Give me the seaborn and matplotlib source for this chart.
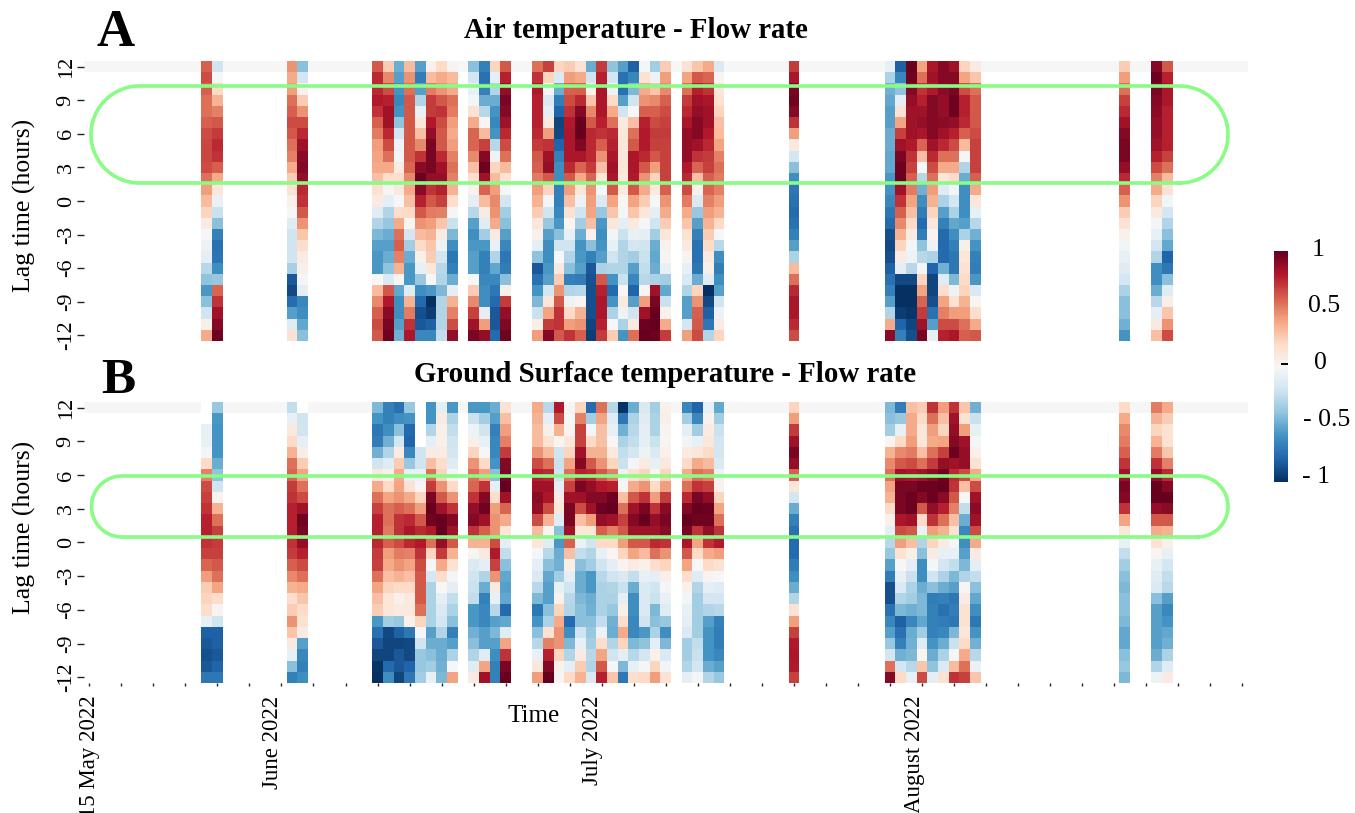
# -*- coding: utf-8 -*-
import pandas as pd
import numpy as np
import seaborn as sns
import matplotlib
matplotlib.use("Agg")
import matplotlib.pyplot as plt
from matplotlib.lines import Line2D
from matplotlib.transforms import IdentityTransform

#--- lag rows, top to bottom ---
lags = [12, 11, 10, 9, 8, 7, 6, 5, 4, 3, 2, 1, 0, -1, -2, -3, -4, -5, -6, -7, -8, -9, -10, -11, -12]
n_days = 109
lag_labels = ["12", "9", "6", "3", "0", "-3", "-6", "-9", "-12"]
month_labels = ["15 May 2022", "June 2022", "July 2022", "August 2022"]
nan = np.nan

#--- Air temperature - Flow rate, one list per day ---
a11 = [.6,.65,.6,.55,.55,.6,.65,.67,.67,.65,.55,.42,.32,.22,.08,-.01,-.05,-.1,-.28,-.4,-.58,-.42,-.2,.06,.38]
a12 = [-.2,0,.2,.35,.5,.62,.7,.75,.72,.6,.38,.12,-.07,-.22,-.42,-.68,-.75,-.73,-.62,-.38,.58,.72,.85,.92,.98]
a19 = [.45,.38,.42,.55,.6,.65,.62,.55,.5,.38,.25,.15,.05,-.01,-.12,-.2,-.2,-.2,-.33,-.85,-.9,-.77,-.55,-.12,.15]
a20 = [-.42,-.18,.05,.25,.45,.65,.75,.85,.9,.92,.88,.75,.72,.62,.45,.28,.18,.08,.06,-.02,-.1,-.65,-.62,-.52,-.42]
a27 = [.62,.75,.75,.8,.72,.6,.52,.42,.4,.38,.3,.15,.08,-.12,-.3,-.45,-.55,-.58,-.58,0,.32,.48,.6,.65,.62]
a28 = [.25,.48,.65,.78,.85,.85,.75,.65,.55,.38,.18,.02,-.1,-.3,-.38,-.5,-.55,-.5,-.4,-.15,.62,.8,.9,.95,.98]
a29 = [-.5,-.55,-.6,-.65,-.6,-.4,-.18,-.06,-.03,.08,.18,.1,0,.18,.38,.55,.6,.5,.35,.02,-.52,-.62,-.62,-.55,-.48]
a30 = [.32,.45,.55,.62,.62,.62,.62,.62,.62,.58,.48,.38,.3,.2,.02,-.18,-.35,-.5,-.58,-.58,-.12,.35,.52,.72,.82]
a31 = [-.55,-.7,-.55,-.3,-.08,.12,.3,.48,.72,.9,.98,.9,.78,.62,.45,.32,.2,.06,-.08,-.38,-.62,-.78,-.88,-.85,-.65]
a32 = [.05,.32,.52,.7,.7,.8,.88,.95,.95,.95,.88,.72,.62,.52,.42,.35,.28,.25,.12,0,-.58,-1,-.95,-.82,-.65]
a33 = [.2,.38,.45,.62,.72,.65,.62,.62,.75,.85,.88,.78,.68,.5,.28,.08,-.05,-.18,-.28,-.3,-.45,-.3,-.3,-.3,-.25]
a34 = [.03,.32,.38,.55,.52,.42,.38,.42,.5,.55,.5,.35,.18,-.02,-.22,-.45,-.62,-.72,-.68,-.5,-.1,.35,.5,.65,.88]
a36 = [-.42,-.18,-.08,-.02,.15,.38,.58,.58,.48,.3,.18,.04,-.1,-.28,-.55,-.62,-.58,-.55,-.55,0,.25,.48,.68,.85,.95]
a37 = [-.68,-.75,-.68,-.5,-.28,.02,.32,.68,.92,.98,.85,.58,.32,.08,-.12,-.35,-.58,-.68,-.68,-.65,-.62,-.62,-.1,.42,.88]
a38 = [.22,-.1,-.3,-.5,-.6,-.65,-.6,-.28,-.05,.22,.32,.42,.48,.45,.38,.08,-.08,-.3,-.52,-.65,-.72,-.78,-.85,-.85,-.78]
a39 = [.62,.78,.88,.95,.92,.85,.75,.65,.55,.32,.15,0,-.18,-.35,-.42,-.55,-.65,-.72,-.7,-.42,.06,.7,.88,.93,.97]
a42 = [.55,.72,.8,.78,.78,.78,.75,.7,.62,.6,.52,.42,.35,.25,.12,.05,-.1,-.4,-.85,-.75,-.6,-.45,-.22,.06,.42]
a43 = [.68,.22,-.02,-.15,-.1,.1,.42,.72,.85,.88,.62,.22,-.02,-.2,-.38,-.55,-.62,-.62,-.58,-.55,-.18,.12,.4,.7,.92]
a44 = [.22,-.15,-.5,-.7,-.8,-.92,-.9,-.8,-.68,-.62,-.62,-.68,-.68,-.65,-.58,-.42,-.2,-.01,.1,.25,.45,.62,.72,.72,.62]
a45 = [.25,.42,.6,.65,.72,.8,.82,.82,.82,.75,.62,.42,.3,.15,.02,-.08,-.2,-.3,-.42,-.68,-.3,-.05,.2,.42,.72]
a46 = [.15,.38,.6,.75,.92,1,1,.93,.82,.58,.38,.12,-.06,-.2,-.35,-.5,-.6,-.58,-.55,-.7,-.28,.02,.35,.45,.6]
a47 = [-.5,-.2,.04,.28,.48,.62,.75,.75,.75,.7,.58,.45,.42,.4,.3,.05,-.42,-.68,-.85,-.87,-.88,-.88,-.88,-.92,-.95]
a48 = [.7,.78,.82,.82,.82,.78,.72,.6,.45,.3,.12,-.01,-.15,-.38,-.58,-.62,-.6,-.55,-.32,.62,.78,.82,.82,.78,.7]
a49 = [-.4,-.18,-.05,.2,.38,.55,.75,.78,.82,.85,.82,.62,.4,.28,.12,-.03,-.08,-.2,-.3,-.6,-.78,-.6,-.32,0,.25]
a50 = [-.55,-.75,-.75,-.55,-.2,.1,.12,.12,.12,.12,.1,.1,.02,-.02,-.1,-.22,-.3,-.3,-.3,-.22,.02,.1,-.05,-.32,-.6]
a51 = [-.82,-.65,-.45,-.2,0,.3,.55,.62,.82,.82,.8,.62,.4,.28,.1,-.08,-.18,-.35,-.55,-.65,-.8,-.55,-.2,.1,.55]
a52 = [-.02,.15,.38,.45,.6,.78,.8,.8,.75,.62,.45,.38,.25,.12,-.02,-.1,-.2,-.22,-.25,-.28,.02,.42,.85,.98,1]
a53 = [-.35,-.05,.28,.48,.6,.65,.7,.68,.62,.42,.22,.1,-.01,-.1,-.2,-.35,-.5,-.52,-.5,-.32,.85,.95,1,1,.98]
a54 = [.25,.42,.48,.6,.65,.68,.7,.68,.68,.68,.68,.6,.45,.38,.25,.12,.05,.02,-.08,-.35,-.52,-.22,.04,.38,.7]
a56 = [.15,.4,.55,.7,.75,.82,.88,.88,.88,.8,.75,.65,.52,.38,.28,.15,.1,.03,-.08,-.15,-.3,-.55,-.55,-.18,.42]
a57 = [.28,.62,.78,.85,.88,.92,.92,.85,.72,.58,.3,.05,-.15,-.38,-.55,-.68,-.75,-.75,-.72,-.5,.22,.45,.6,.62,.65]
a58 = [.38,.58,.72,.82,.85,.85,.8,.75,.7,.68,.6,.58,.5,.42,.35,.25,.2,.1,.06,-.12,-1,-.9,-.82,-.72,-.3]
a59 = [-.15,.02,.12,.15,.22,.3,.32,.4,.5,.55,.52,.5,.42,.35,.2,-.01,-.28,-.62,-.7,-.62,-.55,-.2,-.06,.08,.22]
a66 = [.7,.82,.95,.97,.92,.72,.42,.1,-.18,-.42,-.62,-.72,-.75,-.78,-.75,-.68,-.55,-.32,.32,.55,.75,.82,.82,.75,.65]
a75 = [-.08,-.32,-.48,-.52,-.55,-.55,-.5,-.5,-.52,-.52,-.58,-.6,-.65,-.72,-.78,-.88,-.9,-.88,-.82,-.75,-.68,-.55,-.3,.38,.9]
a76 = [-.82,-.65,-.4,-.1,.15,.4,.68,.85,.95,.98,.98,.85,.72,.6,.48,.35,.22,.08,-.1,-.9,-1,-1,-.95,-.8,-.68]
a77 = [.98,.97,.92,.88,.85,.85,.85,.8,.72,.68,.6,.52,.4,.3,.2,.08,-.03,-.05,-.28,-.9,-1,-1,-.97,-.92,-.88]
a78 = [.4,.55,.72,.78,.85,.88,.82,.58,.3,-.01,-.28,-.48,-.62,-.7,-.78,-.7,-.4,-.28,-.02,.22,.4,.58,.7,.85,.95]
a79 = [.82,.85,.8,.92,.92,.92,.92,.85,.75,.65,.55,.42,.35,.22,.12,.03,-.05,-.32,-.8,-.92,-.92,-.88,-.75,-.55,-.08]
a80 = [.92,.92,.9,.88,.88,.9,.85,.75,.55,.38,.12,-.12,-.32,-.55,-.68,-.78,-.78,-.78,-.48,-.12,.18,.4,.5,.65,.78]
a81 = [.85,.92,.95,.98,.98,.88,.78,.65,.55,.38,.2,-.03,-.18,-.32,-.52,-.62,-.68,-.72,-.72,-.45,-.05,.15,.42,.65,.82]
a82 = [.22,.4,.65,.78,.78,.75,.6,.32,-.02,-.3,-.5,-.62,-.62,-.62,-.55,-.32,.06,.12,.15,.2,.22,.35,.42,.55,.6]
a83 = [.08,.28,.55,.62,.62,.62,.65,.68,.68,.68,.6,.38,.12,-.08,-.28,-.48,-.6,-.68,-.7,-.58,-.15,.02,.18,.38,.62]
a97 = [.25,.42,.55,.68,.75,.85,.92,.95,.95,.88,.75,.6,.45,.25,.15,.05,-.03,-.08,-.12,-.18,-.32,-.42,-.42,-.48,-.6]
a100 = [.92,.98,.95,.92,.9,.88,.88,.85,.78,.65,.5,.38,.22,.1,-.02,-.08,-.18,-.3,-.62,-.62,-.5,-.28,-.1,.1,.3]
a101 = [.62,.78,.82,.82,.78,.78,.78,.78,.68,.55,.32,.15,-.03,-.18,-.3,-.42,-.52,-.8,-.72,-.42,-.12,.06,.28,.45,.65]

#--- Ground Surface temperature - Flow rate ---
b11 = [nan,nan,-.08,-.08,-.02,.2,.5,.65,.68,.72,.78,.78,.72,.68,.58,.42,.25,.22,.18,-.08,-.82,-.85,-.88,-.85,-.72]
b12 = [-.38,-.58,-.6,-.6,-.6,-.5,-.4,-.2,.03,.35,.55,.68,.7,.68,.62,.55,.4,.18,.02,-.2,-.82,-.82,-.85,-.8,-.72]
b19 = [-.25,-.08,.1,.2,.35,.55,.58,.7,.72,.78,.78,.78,.72,.7,.6,.48,.35,.18,.25,.45,.28,.1,-.08,-.42,-.68]
b20 = [nan,-.2,-.2,-.1,.07,.25,.4,.55,.65,.85,.97,.95,.88,.78,.65,.55,.38,.28,.2,.15,.08,-.55,-.65,-.68,-.62]
b27 = [-.45,-.6,-.72,-.7,-.48,-.2,.1,.38,.55,.68,.78,.78,.75,.7,.68,.55,.4,.3,.25,-.58,-.75,-.85,-.92,-.98,-1]
b28 = [-.68,-.68,-.62,-.48,-.3,-.12,.05,.2,.4,.55,.55,.52,.6,.42,.38,.3,.22,.12,.12,-.35,-.9,-.92,-.92,-.78,-.62]
b29 = [-.75,-.62,-.42,-.18,.08,.25,.38,.4,.45,.6,.72,.72,.65,.52,.45,.35,.2,.05,.1,-.38,-.82,-.92,-.85,-.85,-.92]
b30 = [-.38,-.6,-.78,-.8,-.65,-.38,-.08,.15,.38,.55,.75,.82,.75,.5,.4,.3,.2,.1,.1,.05,-.72,-.9,-.9,-.8,-.72]
b31 = [nan,nan,nan,nan,-.2,-.2,-.08,.02,.22,.42,.62,.75,.8,.72,.65,.62,.62,.62,.55,.22,-.02,-.2,-.38,-.38,-.35]
b32 = [-.6,-.6,-.3,-.1,.08,.3,.55,.7,.95,1,.97,.8,.55,.22,-.02,-.18,-.32,-.32,-.32,-.32,-.55,-.5,-.42,-.35,-.08]
b33 = [-.1,.08,.06,.05,.08,.18,.22,.45,.62,.85,1,1,.88,.7,.38,.18,0,-.1,-.15,-.18,-.3,-.5,-.5,-.48,-.45]
b34 = [-.58,-.32,-.25,-.2,-.18,-.12,-.02,.2,.45,.72,.92,.85,.62,.35,.15,-.02,-.1,-.25,-.32,-.42,-.68,-.55,-.32,0,.4]
b36 = [-.58,-.22,-.06,.06,.22,.45,.55,.58,.72,.88,.92,.72,.35,.02,-.15,-.2,-.22,-.25,-.58,-.58,-.48,-.42,-.3,-.12,.08]
b37 = [-.58,-.35,-.2,-.08,0,.2,.42,.72,.92,.97,.85,.6,.35,.1,-.1,-.3,-.5,-.68,-.65,-.65,-.55,-.55,-.12,.4,.85]
b38 = [-.5,-.55,-.68,-.65,-.65,-.6,-.42,-.1,.18,.42,.45,.45,.65,.8,.68,.45,.1,-.08,-.28,-.55,-.45,-.55,-.62,-.68,-.68]
b39 = [.15,.3,.42,.5,.7,.92,.95,1,.85,.58,.38,.12,-.1,-.25,-.42,-.52,-.55,-.52,-.78,-.52,-.12,.4,.72,.95,1]
b42 = [.38,.35,.32,.32,.45,.65,.78,.85,.9,.88,.65,.32,.12,-.02,-.1,-.15,-.28,-.45,-.72,-.6,-.42,-.28,-.08,.12,.42]
b43 = [-.28,-.1,.06,.15,.32,.55,.75,.85,.82,.65,.35,.02,-.12,-.28,-.42,-.52,-.55,-.55,-.42,-.32,.15,.5,.78,.92,1]
b44 = [.8,.65,.35,.02,-.2,-.22,-.2,-.1,.08,.12,-.12,-.42,-.58,-.5,-.48,-.35,-.08,.05,.22,.38,.45,.45,.22,.04,.02]
b45 = [.01,0,.03,.12,.22,.4,.55,.68,.85,.95,.95,.85,.6,.3,.06,-.1,-.2,-.28,-.3,-.78,-.62,-.45,-.3,-.1,.2]
b46 = [.22,.5,.68,.68,.85,.92,.78,.95,.85,.65,.3,.12,-.07,-.25,-.42,-.5,-.5,-.45,-.42,-.42,-.2,-.08,.08,.25,.35]
b47 = [-.78,-.35,-.03,.2,.35,.62,.75,.88,.92,.85,.42,.12,-.2,-.3,-.35,-.58,-.58,-.5,-.48,-.42,-.38,-.35,-.28,-.3,-.15]
b48 = [.55,.4,.3,.3,.35,.45,.62,.8,.92,.98,.88,.6,.2,-.08,-.2,-.28,-.32,-.32,-.32,-.25,-.05,.18,.4,.62,.78]
b49 = [-.28,-.12,-.08,0,.1,.22,.5,.78,.98,1,.85,.5,.2,.02,-.1,-.2,-.3,-.32,-.38,-.48,-.5,-.3,-.2,-.02,.28]
b50 = [-.98,-.72,-.48,-.32,-.25,-.22,-.05,.02,.3,.55,.68,.62,.42,.22,.03,-.15,-.22,-.1,.06,.18,.38,.22,-.1,-.45,-.72]
b51 = [-.5,-.32,-.28,-.25,-.18,-.02,.15,.38,.62,.85,.92,.85,.62,.4,.08,-.25,-.5,-.62,-.62,-.65,-.65,-.45,-.28,-.08,.18]
b52 = [-.15,-.12,-.1,-.1,-.05,.08,.22,.45,.72,.95,1,.85,.62,.32,.05,-.08,-.15,-.15,-.15,-.2,-.58,-.4,-.18,-.02,.2]
b53 = [-.35,-.32,-.32,-.22,-.15,-.08,.02,.2,.42,.72,.88,.85,.75,.55,.18,-.1,-.2,-.22,-.45,-.42,-.32,-.1,.05,.22,.42]
b54 = [.05,.06,.03,.02,.05,.1,.22,.42,.7,.9,.95,.9,.72,.45,.22,.06,-.02,-.08,-.12,-.38,-.62,-.45,-.15,-.03,.15]
b56 = [-.65,-.35,-.1,-.03,.08,.2,.38,.55,.75,.92,1,.95,.82,.62,.4,.18,.05,-.03,-.08,-.1,-.15,-.35,-.35,-.3,-.1]
b57 = [-.8,-.65,-.35,-.08,.12,.38,.55,.72,.95,1,.97,.72,.4,.2,0,-.12,-.3,-.35,-.35,-.35,-.35,-.25,-.22,-.18,-.02]
b58 = [-.08,.04,.08,.12,.2,.32,.5,.68,.88,.98,.97,.88,.72,.38,.2,.03,-.1,-.18,-.3,-.55,-.6,-.6,-.6,-.5,-.3]
b59 = [-.52,-.35,-.22,-.18,-.18,-.15,-.05,.04,.22,.4,.55,.72,.8,.42,.15,0,-.12,-.18,-.28,-.68,-.7,-.7,-.65,-.55,-.38]
b66 = [.22,.42,.7,.85,.95,.88,.6,.12,-.18,-.5,-.68,-.75,-.78,-.78,-.7,-.62,-.5,-.3,.15,.42,.68,.8,.82,.8,.68]
b75 = [-.45,-.42,-.35,.02,.35,.48,.55,.4,.35,.2,.05,-.1,-.28,-.38,-.55,-.7,-.88,-.88,-.75,-.65,-.55,-.38,-.18,.55,.92]
b76 = [-.7,-.38,-.08,.2,.48,.62,.85,.95,.95,.95,.82,.65,.42,.15,0,-.08,-.15,-.3,-.45,-.82,-.75,-.68,-.48,-.18,.2]
b77 = [.3,.38,.38,.42,.52,.65,.82,.95,.98,.98,.85,.62,.3,.06,-.1,-.22,-.32,-.35,-.48,-.65,-.5,-.48,-.45,-.28,-.08]
b78 = [.25,.2,.12,.12,.3,.55,.85,.98,.92,.62,.2,-.07,-.3,-.42,-.62,-.62,-.5,-.45,-.45,-.52,-.35,-.12,.02,.28,.65]
b79 = [.72,.55,.42,.38,.55,.7,.9,.98,.98,.88,.72,.42,.22,.08,-.02,-.2,-.42,-.7,-.68,-.68,-.68,-.6,-.5,-.4,-.1]
b80 = [.42,.3,.22,.4,.68,.88,.98,1,.9,.78,.55,.35,.08,-.08,-.18,-.32,-.5,-.68,-.75,-.7,-.65,-.5,-.32,-.15,.15]
b81 = [.72,.85,.88,.92,.98,.85,.75,.72,.62,.5,.3,.15,-.02,-.08,-.25,-.45,-.55,-.72,-.7,-.72,-.45,-.22,-.02,.32,.72]
b82 = [.28,.15,.42,.85,.88,.88,.65,.3,0,-.25,-.5,-.65,-.62,-.55,-.45,-.3,.02,.08,.15,.15,.12,.2,.38,.55,.68]
b83 = [-.48,-.22,-.08,-.02,.05,.15,.38,.65,.85,.9,.85,.65,.38,.08,-.1,-.25,-.42,-.52,-.62,-.72,-.6,-.48,-.28,-.07,.28]
b97 = [.2,.38,.48,.52,.6,.72,.85,.95,.92,.72,.4,.12,-.08,-.25,-.35,-.42,-.45,-.42,-.42,-.45,-.52,-.52,-.42,-.38,-.45]
b100 = [.52,.35,.22,.35,.52,.72,.88,1,1,.88,.62,.38,.15,.02,-.08,-.12,-.15,-.42,-.55,-.55,-.55,-.55,-.5,-.3,-.05]
b101 = [.38,.25,.15,.15,.28,.5,.75,.92,1,.9,.62,.35,.05,-.08,-.18,-.25,-.28,-.55,-.65,-.6,-.52,-.48,-.32,-.12,.08]


def build_table(prefix):
    # days without a listed column stay empty, only the 12 h row is kept at 0
    table = pd.DataFrame(np.nan, index=lags, columns=range(n_days))
    table.loc[12] = 0.0
    for name, col in globals().copy().items():
        if name[0] == prefix and name[1:].isdigit():
            table[int(name[1:])] = col
    return table


plt.rcParams['font.family'] = ['Liberation Serif', 'DejaVu Serif']
fig = plt.figure(figsize=(13.55, 8.13), dpi=100)
W, H = 1355.0, 813.0


def px_axes(left, top, right, bottom):
    return fig.add_axes([left / W, 1 - bottom / H, (right - left) / W, (bottom - top) / H])


ax_a = px_axes(84, 61, 1247.5, 341)
ax_b = px_axes(84, 402, 1247.5, 683)
cax = px_axes(1274, 251.5, 1288, 482)

sns.heatmap(build_table('a'), vmin=-1, vmax=1, cmap='RdBu_r', ax=ax_a, cbar_ax=cax)
sns.heatmap(build_table('b'), vmin=-1, vmax=1, cmap='RdBu_r', ax=ax_b, cbar=False)

for ax in (ax_a, ax_b):
    ax.set_yticks(np.arange(0, 25, 3) + 0.5)
    ax.set_yticklabels(lag_labels, rotation=90, va='center', fontsize=16)
    ax.tick_params(axis='y', length=5, width=1, pad=1, color='#222222')
    ax.set_xticks([])
    ax.set_xlabel('')
    ax.set_ylabel('')

fig.text(24 / W, 1 - 205 / H, 'Lag time (hours)', rotation=90, ha='center', va='center', fontsize=18.5)
fig.text(24 / W, 1 - 527 / H, 'Lag time (hours)', rotation=90, ha='center', va='center', fontsize=18.5)

ax_b.set_xticks(np.arange(0, n_days, 3) + 0.5, minor=True)
ax_b.tick_params(axis='x', which='minor', length=2.5, width=1, color='#222222')
ax_b.set_xticks([0.55, 17.65, 47.65, 77.85])
ax_b.set_xticklabels(month_labels, rotation=90, ha='center', va='top', fontsize=16.5)
ax_b.tick_params(axis='x', which='major', length=0, pad=9)
fig.text(534 / W, 1 - 716 / H, 'Time', ha='center', va='center', fontsize=18)

fig.text(636 / W, 1 - 31 / H, 'Air temperature - Flow rate', ha='center', va='center',
         fontsize=20.8, fontweight='bold')
fig.text(665 / W, 1 - 374 / H, 'Ground Surface temperature - Flow rate', ha='center', va='center',
         fontsize=20.8, fontweight='bold')
fig.text(116 / W, 1 - 33.5 / H, 'A', ha='center', va='center', fontsize=38, fontweight='bold')
fig.text(118 / W, 1 - 381 / H, 'B', ha='center', va='center', fontsize=37, fontweight='bold')

#--- colorbar: only the 0 tick is drawn, labels are set by hand ---
cax.set_yticks([0.02])
cax.set_yticklabels([''])
cax.tick_params(axis='y', direction='in', length=5, width=1.4, color='black')
cbar_text = [('1', 1318, 250), ('0.5', 1324, 306), ('0', 1320, 363), ('- 0.5', 1327, 420), ('- 1', 1316, 477)]
for txt, x, y in cbar_text:
    fig.text(x / W, 1 - y / H, txt, ha='center', va='center', fontsize=18.5)

#--- green highlight boxes with round ends, in pixels ---
for left, top, right, bottom in [(91, 86, 1228, 183), (91.5, 476, 1228, 537)]:
    r = (bottom - top) / 2.0
    t = np.linspace(-np.pi / 2, np.pi / 2, 60)
    xs = np.r_[right - r + r * np.cos(t), left + r - r * np.cos(t[::-1] * -1)]
    ys = np.r_[H - (top + bottom) / 2.0 + r * np.sin(t), H - (top + bottom) / 2.0 - r * np.sin(t)]
    xs = np.r_[xs, xs[0]]
    ys = np.r_[ys, ys[0]]
    fig.add_artist(Line2D(xs, ys, transform=IdentityTransform(), color='#88fc85', linewidth=2.6, zorder=10))

fig.savefig('out.png', dpi=100)
